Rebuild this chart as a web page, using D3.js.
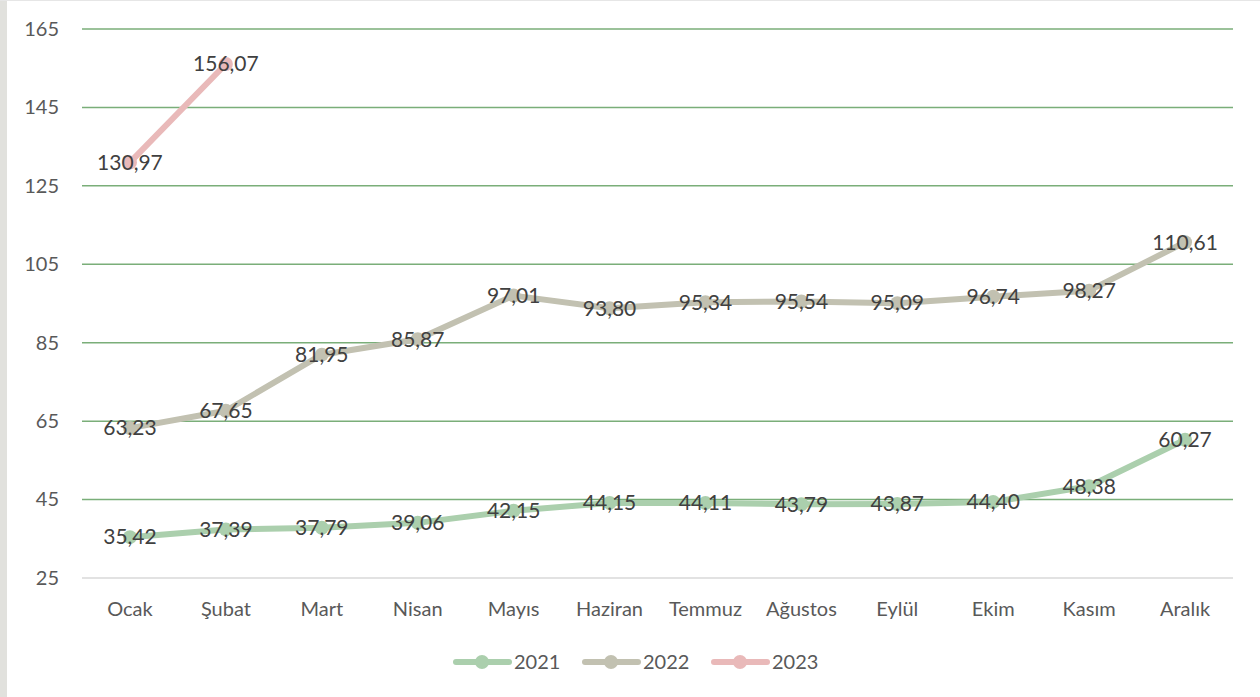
<!DOCTYPE html>
<html>
<head>
<meta charset="utf-8">
<script src="https://cdn.jsdelivr.net/npm/d3@7"></script>
<style>
  body { margin: 0; background: #fff; }
  text { font-family: Lato, "Open Sans", sans-serif; }
</style>
</head>
<body>
<div id="chart"></div>
<script>
var months = ["Ocak", "Şubat", "Mart", "Nisan", "Mayıs", "Haziran", "Temmuz", "Ağustos", "Eylül", "Ekim", "Kasım", "Aralık"];
var years = ["2021", "2022", "2023"];
var values2021 = [35.42, 37.39, 37.79, 39.06, 42.15, 44.15, 44.11, 43.79, 43.87, 44.40, 48.38, 60.27];
var values2022 = [63.23, 67.65, 81.95, 85.87, 97.01, 93.80, 95.34, 95.54, 95.09, 96.74, 98.27, 110.61];
var values2023 = [130.97, 156.07];
var yTicks = [25, 45, 65, 85, 105, 125, 145, 165];
var colors = ["#abcfad", "#c2c1b1", "#e9b9b9"];

var W = 1260, H = 697;
var margin = {top: 29, right: 27, bottom: 119, left: 82};
var width = W - margin.left - margin.right,
    height = H - margin.top - margin.bottom;

var svg = d3.select("#chart").append("svg")
    .attr("width", W)
    .attr("height", H);

// frame bits
svg.append("rect").attr("x", 0).attr("y", 0).attr("width", 7).attr("height", H).attr("fill", "#e1e1dd");
svg.append("line").attr("x1", 0).attr("x2", W).attr("y1", 0.5).attr("y2", 0.5)
   .attr("stroke", "#e6e6e6").attr("stroke-width", 1);

var g = svg.append("g").attr("transform", "translate(" + margin.left + "," + margin.top + ")");

var x = d3.scaleBand().domain(months).range([0, width]);
var y = d3.scaleLinear().domain([25, 165]).range([height, 0]);

// gridlines
g.selectAll(".grid").data(yTicks).enter().append("line")
  .attr("x1", 0).attr("x2", width)
  .attr("y1", function(d) { return y(d); })
  .attr("y2", function(d) { return y(d); })
  .attr("stroke", function(d) { return d == 25 ? "#d9d9d9" : "#7aae79"; })
  .attr("stroke-width", 1.5);

// y axis
var yAxis = d3.axisLeft(y).tickValues(yTicks).tickSize(0).tickPadding(0);
g.append("g").call(yAxis)
  .call(function(a) { a.select(".domain").remove(); })
  .selectAll("text")
    .attr("x", -23)
    .attr("text-anchor", "end")
    .attr("fill", "#595959")
    .style("font-size", "20px");

// x axis
var xAxis = d3.axisBottom(x).tickSize(0).tickPadding(24);
g.append("g").attr("transform", "translate(0," + height + ")").call(xAxis)
  .call(function(a) { a.select(".domain").remove(); })
  .selectAll("text")
    .attr("fill", "#595959")
    .style("font-size", "20px");

var series = [values2021, values2022, values2023];

var line = d3.line()
  .x(function(d, i) { return x(months[i]) + x.bandwidth() / 2; })
  .y(function(d) { return y(d); });

series.forEach(function(vals, s) {
  g.append("path")
    .datum(vals)
    .attr("fill", "none")
    .attr("stroke", colors[s])
    .attr("stroke-width", 6)
    .attr("stroke-linecap", "round")
    .attr("stroke-linejoin", "round")
    .attr("d", line);

  g.selectAll(".pt" + s).data(vals).enter().append("circle")
    .attr("cx", function(d, i) { return x(months[i]) + x.bandwidth() / 2; })
    .attr("cy", function(d) { return y(d); })
    .attr("r", 7)
    .attr("fill", colors[s]);
});

series.forEach(function(vals, s) {
  g.selectAll(".lbl" + s).data(vals).enter().append("text")
    .attr("x", function(d, i) { return x(months[i]) + x.bandwidth() / 2; })
    .attr("y", function(d) { return y(d); })
    .attr("dy", "0.35em")
    .attr("text-anchor", "middle")
    .attr("fill", "#404040")
    .style("font-size", "21px")
    .text(function(d) { return d3.format(".2f")(d).replace(".", ","); });
});

// legend
var legendX = [453, 582, 711];
var legend = svg.selectAll(".legend").data(years).enter().append("g")
  .attr("transform", function(d, i) { return "translate(" + legendX[i] + ",662)"; });
legend.append("line")
  .attr("x1", 3).attr("x2", 56).attr("y1", 0).attr("y2", 0)
  .attr("stroke", function(d, i) { return colors[i]; })
  .attr("stroke-width", 6)
  .attr("stroke-linecap", "round");
legend.append("circle")
  .attr("cx", 29).attr("cy", 0).attr("r", 7)
  .attr("fill", function(d, i) { return colors[i]; });
legend.append("text")
  .attr("x", 61).attr("y", 0).attr("dy", "0.35em")
  .attr("fill", "#595959")
  .style("font-size", "20px")
  .text(function(d) { return d; });
</script>
</body>
</html>
